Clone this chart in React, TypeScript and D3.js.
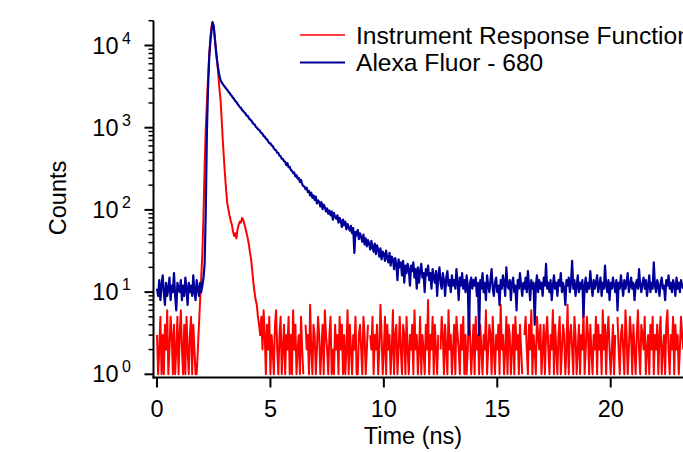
import React from 'react';
import * as d3 from 'd3';

// time step between channels (ns)
const DT = 0.05;

// Instrument Response Function counts (t = 0 .. 23.20 ns, step DT)
const redPre = [3,1,2,5,1,3,1,4,2,6, 1,2,5,3,1,4,1,2,5,1, 3,6,2,1,4,1,5,2,1,3, 5,1,4,2,1];
const redPeak = [
  1,2,4,8,15,30,90,350,1000,2000,
  4000,7500,12000,17000,19500,16000,12000,9000,6500,4500,
  3000,2200,1300,700,420,260,170,120,100,85,
  74,66,55,48,52,45,58,66,72,70,
  80,76,68,60,52,45,38,30,25,18,
  13,10,8,7,5,
];
const redTail = [
  4,3,5,2,6,3,1,4,2,5,1,3,2,1,4,6,2,1,3,5,1,2,4,1,3,
  2,5,1,3,1,6,2,4,1,2,3,1,5,2,1,0,4,2,3,1,7,2,1,4,3,
  1,2,5,3,1,2,4,1,6,3,2,1,3,5,1,2,1,4,2,3,1,5,2,4,1,
  3,1,2,6,1,4,2,1,3,2,5,1,1,3,4,2,1,5,3,1,2,4,0,3,2,
  5,1,3,2,4,1,2,7,3,1,2,5,1,4,2,3,1,2,6,1,3,4,1,2,5,
  2,1,4,3,1,5,2,1,3,2,4,1,6,2,3,1,2,5,1,3,2,1,4,2,8,
  1,3,2,5,1,4,2,1,3,0,2,5,3,1,4,2,1,6,2,3,1,2,4,1,5,
  3,2,1,4,2,5,1,3,1,2,6,3,1,2,4,1,5,2,3,1,4,2,1,3,2,
  6,1,2,4,3,1,5,2,1,3,2,4,1,7,2,3,1,2,5,1,4,3,1,2,4,
  1,5,2,3,1,4,2,1,0,3,5,2,1,4,2,6,1,3,2,1,5,3,2,4,1,
  2,4,1,3,5,2,1,3,2,6,1,4,2,1,3,5,1,2,4,3,1,2,7,1,3,
  4,2,1,5,3,1,2,4,1,3,2,6,1,2,5,3,1,4,2,1,3,2,5,1,4,
  2,3,1,6,2,4,1,3,5,2,1,2,4,1,3,0,5,2,1,3,4,2,1,6,3,
  1,2,5,3,1,4,2,1,3,6,2,1,4,3,2,5,1,2,3,1,4,2,5,1,3,
  2,4,1,3,5,1,2,3,1,4,6,2,1,3,2,5,1,4,2,3,1,2,5,3,2,
];

// Alexa Fluor - 680 counts (t = 0 .. 23.20 ns, step DT)
const bluePre = [
  11,9,14,8,12,16,10,7,13,9, 11,15,8,12,10,17,9,6,13,11,
  10,14,8,12,9,15,11,7,13,10, 12,9,16,10,8,14,11,9,13,10, 12,15,
];
const bluePeak = [22,100,900,3000,7000,11000,15000,19000,17500,12500,8500,6500,5200,4300,3800,3550];
const blueDecay = [
  3400,3240,3120,2990,2880,2740,2650,2510,2430,2300,2240,2110,
  2060,1940,1880,1770,1750,1640,1600,1530,1490,1400,
  1390,1310,1260,1230,1170,1110,1100,1030,1000,960,
  940,900,860,845,790,780,735,725,680,650,
  645,610,600,560,540,530,495,490,455,450,
  420,415,390,385,350,370,330,335,305,300,
  280,285,255,265,240,245,218,232,205,195,
  192,178,186,165,170,150,162,140,150,132,
  145,120,131,125,110,124,102,116,108,96,
  104,90,98,86,96,76,92,82,78,86,
  70,80,74,62,76,65,72,58,67,61,
  56,64,52,60,30,54,49,57,44,52,
  47,41,50,38,45,36,43,39,33,42,
  35,31,39,29,37,33,27,34,25,31,
  29,24,32,26,23,30,21,27,25,19,
  26,22,14,25,20,23,16,24,13,21,
  17,22,19,12,21,18,23,15,19,11,
  20,13,18,22,15,17,10,19,16,21,
  14,17,11,19,15,13,18,9,16,20,
  13,11,17,14,9,15,18,12,14,10,
  16,12,14,11,19,13,8,15,12,17,
  11,14,10,16,12,3,13,15,11,14,
];
const blueTail = [
  12,15,9,13,3,14,11,17,10,13,
  8,16,12,10,14,19,11,9,13,15,
  10,12,7,14,11,16,13,9,20,12,
  11,14,8,13,15,10,12,6,14,11,
  17,12,9,13,11,15,10,18,12,8,
  14,11,13,4,12,16,10,14,11,13,
  9,15,12,22,11,13,10,14,8,12,
  16,11,13,9,14,12,17,10,13,11,
  7,14,12,15,10,13,24,11,14,9,
  12,16,10,13,11,14,5,12,15,10,
  13,11,18,12,9,14,11,13,16,10,
  12,15,9,13,11,21,12,10,14,8,
  13,11,15,12,10,14,6,13,11,16,
  12,9,14,11,13,17,10,12,15,11,
  13,8,12,14,11,19,12,10,13,15,
  11,14,9,12,16,10,13,11,23,12,
  10,14,12,9,13,15,11,12,8,14,
  12,16,11,13,10,14,12,9,15,11,
  13,10,14,12,11,
];

const xTicks = [0, 5, 10, 15, 20];
const yDecades = [0, 1, 2, 3, 4];
const legendLabels = ['Instrument Response Function', 'Alexa Fluor - 680'];
const seriesColors = ['#ff0000', '#000099'];

const redCounts = [...redPre, ...redPeak, ...redTail];
const blueCounts = [...bluePre, ...bluePeak, ...blueDecay, ...blueTail];

const W = 683;
const H = 452;
const FONT = "Arial, 'Liberation Sans', Helvetica, sans-serif";

export default function App() {
  const x = d3.scaleLinear().domain([0, 20]).range([157, 610.7]);
  const y = d3.scaleLog().domain([1, 1e4]).range([374.3, 45.5]);
  const yTop = y(2e4);
  const axisX = 153.5;
  const axisY = 377.5;

  const line = d3
    .line<number>()
    .defined((v) => v > 0)
    .x((_, i) => x(i * DT))
    .y((v) => y(v));

  const minorTicks: number[] = [];
  yDecades.forEach((d) => {
    for (let m = 2; m <= 9; m++) {
      const v = m * Math.pow(10, d);
      if (v <= 2e4) minorTicks.push(v);
    }
  });

  return (
    <svg
      width={W}
      height={H}
      style={{ position: 'absolute', left: 0, top: 0, background: '#fff' }}
      fontFamily={FONT}
    >
      <defs>
        <clipPath id="plotClip">
          <rect x={axisX} y={yTop - 2} width={W - axisX} height={axisY - yTop + 2} />
        </clipPath>
      </defs>

      <g clipPath="url(#plotClip)" fill="none" strokeLinejoin="round">
        <path d={line(redCounts) || ''} stroke={seriesColors[0]} strokeWidth={2} />
        <path d={line(blueCounts) || ''} stroke={seriesColors[1]} strokeWidth={2.2} />
      </g>

      {/* axes */}
      <g stroke="#000" strokeWidth={2}>
        <line x1={axisX} x2={axisX} y1={yTop} y2={axisY + 1} />
        <line x1={axisX - 1} x2={W} y1={axisY} y2={axisY} />
        {xTicks.map((t) => (
          <line key={'xt' + t} x1={x(t)} x2={x(t)} y1={axisY} y2={axisY + 10} />
        ))}
        {yDecades.map((d) => (
          <line key={'yt' + d} x1={axisX - 9} x2={axisX} y1={y(Math.pow(10, d))} y2={y(Math.pow(10, d))} />
        ))}
        {minorTicks.map((v) => (
          <line key={'ym' + v} x1={axisX - 5} x2={axisX} y1={y(v)} y2={y(v)} strokeWidth={1.5} />
        ))}
      </g>

      {/* x tick labels */}
      {xTicks.map((t) => (
        <text key={'xl' + t} x={x(t)} y={416.5} textAnchor="middle" fontSize={23.5} fill="#000">
          {t}
        </text>
      ))}

      {/* y tick labels */}
      {yDecades.map((d) => {
        const ty = y(Math.pow(10, d));
        return (
          <g key={'yl' + d} fill="#000">
            <text x={118.5} y={ty + 8} textAnchor="end" fontSize={23.5}>10</text>
            <text x={122} y={ty - 2} fontSize={16}>{d}</text>
          </g>
        );
      })}

      {/* axis titles */}
      <text x={413} y={444} textAnchor="middle" fontSize={23.5} fill="#000">
        Time (ns)
      </text>
      <text
        transform="translate(66,198) rotate(-90)"
        textAnchor="middle"
        fontSize={23.5}
        fill="#000"
      >
        Counts
      </text>

      {/* legend */}
      {legendLabels.map((lab, i) => (
        <g key={lab}>
          <line
            x1={300}
            x2={345}
            y1={35 + i * 27.5}
            y2={35 + i * 27.5}
            stroke={seriesColors[i]}
            strokeWidth={i === 0 ? 1.5 : 2}
          />
          <text x={356} y={43.5 + i * 27.8} fontSize={24.6} fill="#000">
            {lab}
          </text>
        </g>
      ))}
    </svg>
  );
}
